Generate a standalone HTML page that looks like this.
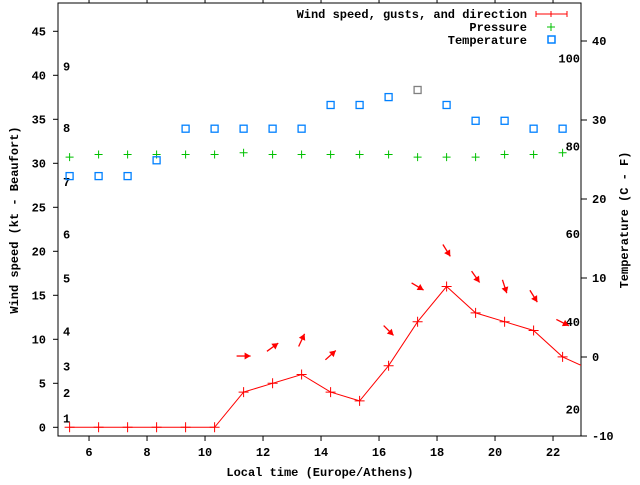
<!DOCTYPE html>
<html><head><meta charset="utf-8"><style>
body{margin:0;background:#fff}
svg text{font-family:"Liberation Mono","DejaVu Sans Mono",monospace;font-weight:bold;font-size:12px;fill:#000}
</style></head><body>
<svg id="chart" width="640" height="480" viewBox="0 0 640 480" xmlns="http://www.w3.org/2000/svg">
<g id="axes"></g>
<g id="marks"></g>
<g>
<text x="527" y="18" text-anchor="end">Wind speed, gusts, and direction</text>
<line x1="536" y1="14" x2="567" y2="14" stroke="#f00"/>
<line x1="536" y1="11" x2="536" y2="17" stroke="#f00"/>
<line x1="551" y1="11" x2="551" y2="17" stroke="#f00"/>
<line x1="567" y1="11" x2="567" y2="17" stroke="#f00"/>
<text x="527" y="31" text-anchor="end">Pressure</text>
<path d="M547 27h8M551 23v8" stroke="#00c000"/>
<text x="527" y="44" text-anchor="end">Temperature</text>
<rect x="548" y="36" width="7" height="7" fill="none" stroke="#0080ff" stroke-width="1.5"/>
</g>
<text x="320" y="476" text-anchor="middle">Local time (Europe/Athens)</text>
<text transform="translate(18,220) rotate(-90)" text-anchor="middle">Wind speed (kt - Beaufort)</text>
<text transform="translate(628,220) rotate(-90)" text-anchor="middle">Temperature (C - F)</text>
</svg>
<script>
const hours=[5.33,6.33,7.33,8.33,9.33,10.33,11.33,12.33,13.33,14.33,15.33,16.33,17.33,18.33,19.33,20.33,21.33,22.33,23.33];
const windSpeed=[0,0,0,0,0,0,4,5,6,4,3,7,12,16,13,12,11,8,6.5];
const gustHours=[11.33,12.33,13.33,14.33,16.33,17.33,18.33,19.33,20.33,21.33,22.33];
const gusts=[8.1,9.1,9.9,8.2,11.0,16.0,20.1,17.1,16.0,14.9,11.9];
const windDir=[270,234,205,228,315,301,328,325,342,328,297];
const pressure=[30.7,31.0,31.0,31.0,31.0,31.0,31.2,31.0,31.0,31.0,31.0,31.0,30.7,30.7,30.7,31.0,31.0,31.2];
const tempC=[22.9,22.9,22.9,24.9,28.9,28.9,28.9,28.9,28.9,31.9,31.9,32.9,33.8,31.9,29.9,29.9,28.9,28.9];
const xTicks=[6,8,10,12,14,16,18,20,22];
const yTicks=[0,5,10,15,20,25,30,35,40,45];
const y2Ticks=[-10,0,10,20,30,40];
const fTicks=[20,40,60,80,100];
const beaufort=[1,2,3,4,5,6,7,8,9];
const beaufortKt=[1,3.9,6.9,10.9,16.9,21.9,27.9,34.0,41.0];

const L=58,R=581,T=3,B=436;
const X=h=>L+(h-4.93)*29;
const Y=v=>427.3-v*8.8;
const Y2=c=>436-(c+10)*7.9;
const NS='http://www.w3.org/2000/svg';
function mk(p,tag,at){const e=document.createElementNS(NS,tag);for(const k in at)e.setAttribute(k,at[k]);p.appendChild(e);return e;}
const ax=document.getElementById('axes'),mg=document.getElementById('marks');
let e=mk(ax,'rect',{x:L,y:T,width:R-L,height:B-T,fill:'none',stroke:'#000'});


xTicks.forEach(t=>{const x=X(t);
 e=mk(ax,'path',{d:`M${x} ${B}v5M${x} ${T}v-4`,stroke:'#000'});
 
 
 e=mk(ax,'text',{x:x,y:456,'text-anchor':'middle'});e.textContent=t;
 
 });
yTicks.forEach(t=>{const y=Y(t);
 e=mk(ax,'path',{d:`M${L} ${y}h-5`,stroke:'#000'});
 
 
 e=mk(ax,'text',{x:46,y:y+4,'text-anchor':'end'});e.textContent=t;
 
 });
y2Ticks.forEach(t=>{const y=Y2(t);
 e=mk(ax,'path',{d:`M${R} ${y}h6`,stroke:'#000'});
 
 
 e=mk(ax,'text',{x:592,y:y+4});e.textContent=t;
 
 });
fTicks.forEach(f=>{const y=Y2((f-32)*5/9);
 e=mk(ax,'text',{x:580,y:y+4,'text-anchor':'end'});e.textContent=f;
 
 });
beaufort.forEach((b,i)=>{
 e=mk(ax,'text',{x:63,y:Y(beaufortKt[i])+4});e.textContent=b;
 
 });
// clip
const cp=mk(mg,'clipPath',{id:'clip'});mk(cp,'rect',{x:L,y:T,width:R-L,height:B-T});
const g=mk(mg,'g',{'clip-path':'url(#clip)'});
e=mk(g,'polyline',{points:hours.map((h,i)=>X(h)+','+Y(windSpeed[i])).join(' '),fill:'none',stroke:'#f00'});


hours.forEach((h,i)=>{const x=X(h),y=Y(windSpeed[i]);
 e=mk(g,'path',{d:`M${x-5} ${y}h10M${x} ${y-5}v10`,stroke:'#f00'});
 
 });
gustHours.forEach((h,i)=>{const cx=X(h),cy=Y(gusts[i]);const a=(windDir[i]+180)*Math.PI/180;
 const dx=Math.sin(a),dy=-Math.cos(a),len=7;
 const tx=cx+dx*len,ty=cy+dy*len,sx=cx-dx*len,sy=cy-dy*len;
 const px=-dy,py=dx;
 const gp=mk(g,'g',{});
 
 
 mk(gp,'line',{x1:sx,y1:sy,x2:tx,y2:ty,stroke:'#f00','stroke-width':1.3});
 mk(gp,'polygon',{points:`${tx},${ty} ${tx-dx*6+px*3.5},${ty-dy*6+py*3.5} ${tx-dx*6-px*3.5},${ty-dy*6-py*3.5}`,fill:'#f00'});});
pressure.forEach((p,i)=>{const x=X(hours[i]),y=Y(p);
 e=mk(g,'path',{d:`M${x-4} ${y}h8M${x} ${y-4}v8`,stroke:'#00c000'});
 
 });
const maxT=Math.max(...tempC);
tempC.forEach((c,i)=>{const x=X(hours[i]),y=Y2(c);
 e=mk(g,'rect',{x:x-3.5,y:y-3.5,width:7,height:7,fill:'none',stroke:c===maxT?'#808080':'#0080ff','stroke-width':1.3});
 
 });
</script>
</body></html>
